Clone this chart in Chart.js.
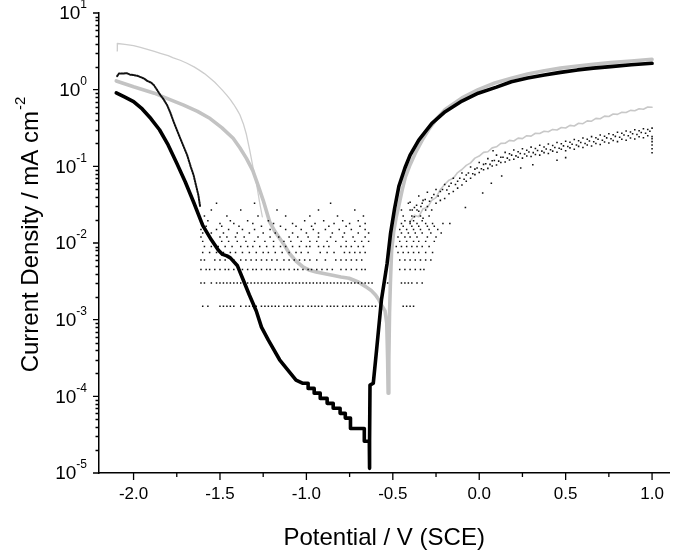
<!DOCTYPE html>
<html>
<head>
<meta charset="utf-8">
<script src="https://cdn.jsdelivr.net/npm/chart.js@4.4.1/dist/chart.umd.min.js"></script>
<style>
  html, body { margin:0; padding:0; background:#fff; }
  canvas { display:block; background:#fff; }
</style>
</head>
<body>
<canvas id="chart" width="675" height="554"></canvas>
<script>
// axis ranges and tick labels
const xMin = -2.2, xMax = 1.1;
const xTickValues = [-2.0,-1.75,-1.5,-1.25,-1.0,-0.75,-0.5,-0.25,0.0,0.25,0.5,0.75,1.0];
const yDecades = [-5,-4,-3,-2,-1,0,1];

// fitted curves  [potential V, current mA cm-2]
const blackFit = [[-2.10,0.91],[-2.05,0.80],[-2.00,0.70],[-1.95,0.56],[-1.90,0.42],[-1.85,0.30],[-1.80,0.19],[-1.75,0.11],[-1.70,0.062],[-1.65,0.033],[-1.60,0.017],[-1.55,0.011],[-1.51,0.0081],[-1.485,0.0071],[-1.46,0.0068],[-1.44,0.0064],[-1.40,0.0051],[-1.37,0.0035],[-1.33,0.0021],[-1.29,0.0013],[-1.26,0.0008],[-1.22,0.00054],[-1.155,0.0003],[-1.10,0.00021],[-1.06,0.000163],[-1.02,0.000148],[-0.99,0.000148],[-0.99,0.000127],[-0.955,0.000127],[-0.955,0.00011],[-0.92,0.00011],[-0.92,0.000094],[-0.88,0.000094],[-0.88,0.000081],[-0.845,0.000081],[-0.845,0.00007],[-0.805,0.00007],[-0.805,0.00006],[-0.775,0.00006],[-0.775,0.000052],[-0.745,0.000052],[-0.745,0.000038],[-0.665,0.000038],[-0.665,0.000026],[-0.636,0.000026],[-0.636,0.0000115],[-0.633,0.000026],[-0.632,0.00014],[-0.613,0.000148],[-0.594,0.0004],[-0.566,0.0018],[-0.533,0.0054],[-0.513,0.0134],[-0.49,0.028],[-0.465,0.055],[-0.43,0.095],[-0.40,0.14],[-0.35,0.22],[-0.274,0.364],[-0.197,0.516],[-0.10,0.71],[-0.006,0.90],[0.10,1.08],[0.186,1.27],[0.28,1.42],[0.377,1.55],[0.47,1.68],[0.569,1.81],[0.66,1.91],[0.76,2.0],[0.88,2.11],[1.00,2.21]];

const grayFit = [[-2.10,1.30],[-2.00,1.09],[-1.88,0.90],[-1.80,0.76],[-1.71,0.63],[-1.63,0.52],[-1.557,0.42],[-1.49,0.32],[-1.424,0.232],[-1.385,0.175],[-1.347,0.127],[-1.31,0.088],[-1.28,0.057],[-1.25,0.036],[-1.213,0.019],[-1.185,0.0145],[-1.155,0.0115],[-1.125,0.0092],[-1.098,0.0073],[-1.06,0.0058],[-1.021,0.0049],[-0.98,0.0044],[-0.944,0.0042],[-0.90,0.0040],[-0.849,0.0038],[-0.80,0.0036],[-0.753,0.00347],[-0.70,0.0031],[-0.657,0.0027],[-0.625,0.0024],[-0.60,0.0021],[-0.58,0.0018],[-0.565,0.00155],[-0.545,0.0013],[-0.535,0.0009],[-0.530,0.0003],[-0.527,0.00011],[-0.523,0.0003],[-0.519,0.0012],[-0.514,0.0030],[-0.507,0.0080],[-0.495,0.014],[-0.48,0.022],[-0.466,0.030],[-0.445,0.050],[-0.427,0.073],[-0.40,0.105],[-0.37,0.148],[-0.33,0.22],[-0.293,0.30],[-0.245,0.42],[-0.197,0.55],[-0.10,0.78],[-0.006,1.0],[0.09,1.22],[0.186,1.41],[0.28,1.60],[0.377,1.77],[0.47,1.91],[0.569,2.04],[0.66,2.14],[0.76,2.25],[0.88,2.37],[1.00,2.49]];

// measured (noisy) data, black sample
const blackMeasLeft = [[-2.095,1.50],[-2.084,1.63],[-2.06,1.62],[-2.04,1.64],[-2.02,1.57],[-2.00,1.55],[-1.979,1.52],[-1.96,1.46],[-1.94,1.40],[-1.921,1.30],[-1.90,1.24],[-1.883,1.15],[-1.865,1.00],[-1.845,0.85],[-1.825,0.74],[-1.806,0.63],[-1.787,0.50],[-1.768,0.38],[-1.75,0.30],[-1.73,0.232],[-1.71,0.18],[-1.69,0.14],[-1.67,0.10],[-1.653,0.077],[-1.64,0.058],[-1.625,0.042],[-1.615,0.030]];

// quantised readings in the passive region: level -> potentials where a dot sits
const bandLevels = [0.0015,0.003,0.0045,0.006,0.0075,0.009,0.0105,0.012,0.0135,0.015,0.0165,0.018,0.0195,0.0225,0.027,0.033];
const bandRows = [
  [-1.60,-1.57,-1.50,-1.48,-1.46,-1.44,-1.42,-1.38,-1.35,-1.33,-1.31,-1.29,-1.26,-1.24,-1.22,-1.20,-1.18,-1.16,-1.13,-1.11,-1.09,-1.06,-1.04,-1.02,-0.99,-0.97,-0.95,-0.93,-0.91,-0.88,-0.86,-0.84,-0.82,-0.79,-0.77,-0.75,-0.73,-0.70,-0.68,-0.66,-0.64,-0.62,-0.60,-0.44,-0.42,-0.40,-0.38],
  [-1.61,-1.59,-1.55,-1.52,-1.50,-1.48,-1.46,-1.44,-1.42,-1.40,-1.38,-1.36,-1.34,-1.32,-1.30,-1.28,-1.26,-1.24,-1.22,-1.20,-1.18,-1.16,-1.14,-1.12,-1.10,-1.08,-1.06,-1.04,-1.02,-1.00,-0.98,-0.96,-0.94,-0.92,-0.90,-0.88,-0.86,-0.84,-0.82,-0.80,-0.78,-0.76,-0.74,-0.72,-0.70,-0.68,-0.66,-0.64,-0.62,-0.55,-0.53,-0.45,-0.43,-0.41,-0.39,-0.36,-0.33],
  [-1.61,-1.58,-1.56,-1.53,-1.50,-1.47,-1.45,-1.42,-1.39,-1.37,-1.34,-1.31,-1.29,-1.26,-1.23,-1.21,-1.18,-1.15,-1.13,-1.10,-1.07,-1.05,-1.02,-0.99,-0.97,-0.94,-0.91,-0.88,-0.85,-0.80,-0.77,-0.74,-0.71,-0.68,-0.66,-0.46,-0.43,-0.40,-0.37,-0.34,-0.32],
  [-1.61,-1.59,-1.53,-1.50,-1.47,-1.42,-1.38,-1.35,-1.32,-1.29,-1.26,-1.23,-1.20,-1.17,-1.13,-1.10,-1.07,-1.04,-1.01,-0.98,-0.94,-0.89,-0.83,-0.80,-0.77,-0.74,-0.71,-0.68,-0.46,-0.43,-0.40,-0.37,-0.34,-0.31,-0.28],
  [-1.60,-1.56,-1.52,-1.48,-1.44,-1.41,-1.37,-1.33,-1.29,-1.25,-1.22,-1.18,-1.14,-1.10,-1.06,-1.03,-0.99,-0.92,-0.88,-0.84,-0.78,-0.75,-0.72,-0.69,-0.66,-0.47,-0.44,-0.41,-0.38,-0.35,-0.31,-0.27],
  [-1.59,-1.55,-1.51,-1.47,-1.43,-1.38,-1.34,-1.31,-1.27,-1.23,-1.19,-1.15,-1.12,-1.08,-1.04,-1.00,-0.98,-0.93,-0.90,-0.87,-0.80,-0.77,-0.74,-0.70,-0.67,-0.48,-0.45,-0.42,-0.39,-0.36,-0.33,-0.29],
  [-1.60,-1.54,-1.49,-1.45,-1.40,-1.35,-1.30,-1.24,-1.19,-1.13,-1.09,-1.03,-0.98,-0.94,-0.88,-0.83,-0.77,-0.72,-0.68,-0.64,-0.46,-0.42,-0.38,-0.35,-0.31,-0.26],
  [-1.61,-1.56,-1.50,-1.46,-1.41,-1.36,-1.28,-1.21,-1.16,-1.10,-1.05,-0.99,-0.93,-0.86,-0.79,-0.73,-0.66,-0.47,-0.43,-0.40,-0.36,-0.30,-0.25],
  [-1.60,-1.55,-1.48,-1.40,-1.33,-1.25,-1.18,-1.08,-1.00,-0.93,-0.85,-0.78,-0.70,-0.64,-0.45,-0.41,-0.37,-0.33,-0.28,-0.22],
  [-1.61,-1.52,-1.45,-1.37,-1.30,-1.21,-1.12,-1.03,-0.96,-0.89,-0.81,-0.74,-0.66,-0.46,-0.42,-0.38,-0.34,-0.29,-0.24],
  [-1.58,-1.49,-1.39,-1.26,-1.15,-1.06,-0.97,-0.87,-0.77,-0.69,-0.44,-0.39,-0.35,-0.30,-0.26],
  [-1.60,-1.50,-1.42,-1.31,-1.19,-1.08,-0.95,-0.84,-0.75,-0.66,-0.45,-0.40,-0.36,-0.31,-0.27,-0.21],
  [-1.57,-1.44,-1.34,-1.22,-1.01,-0.90,-0.79,-0.70,-0.43,-0.38,-0.33],
  [-1.59,-1.46,-1.28,-1.12,-0.98,-0.82,-0.67,-0.44,-0.39,-0.34,-0.29],
  [-1.55,-1.38,-1.17,-0.93,-0.72,-0.45,-0.40,-0.36,-0.31],
  [-1.52,-1.30,-0.86,-0.48,-0.41,-0.33]
];

// black sample, anodic branch scatter (upper and lower edge of the cloud)
const blackCloud = [[-0.400,0.034],[-0.400,0.019],[-0.375,0.029],[-0.375,0.022],[-0.350,0.041],[-0.350,0.026],[-0.325,0.036],[-0.325,0.021],[-0.300,0.046],[-0.300,0.030],[-0.275,0.039],[-0.275,0.027],[-0.250,0.050],[-0.250,0.033],[-0.225,0.047],[-0.225,0.036],[-0.200,0.058],[-0.200,0.038],[-0.175,0.055],[-0.175,0.044],[-0.150,0.070],[-0.150,0.047],[-0.125,0.064],[-0.125,0.052],[-0.100,0.082],[-0.100,0.057],[-0.075,0.077],[-0.075,0.064],[-0.050,0.098],[-0.050,0.070],[-0.025,0.092],[-0.025,0.078],[0.000,0.112],[0.000,0.083],[0.025,0.106],[0.025,0.090],[0.050,0.126],[0.050,0.094],[0.075,0.118],[0.075,0.101],[0.100,0.140],[0.100,0.104],[0.125,0.131],[0.125,0.112],[0.150,0.152],[0.150,0.114],[0.175,0.146],[0.175,0.121],[0.200,0.163],[0.200,0.124],[0.225,0.155],[0.225,0.131],[0.250,0.170],[0.250,0.128],[0.275,0.162],[0.275,0.136],[0.300,0.178],[0.300,0.134],[0.325,0.171],[0.325,0.143],[0.350,0.188],[0.350,0.140],[0.375,0.179],[0.375,0.151],[0.400,0.196],[0.400,0.147],[0.425,0.187],[0.425,0.158],[0.450,0.205],[0.450,0.153],[0.475,0.197],[0.475,0.167],[0.500,0.213],[0.500,0.160],[0.525,0.206],[0.525,0.174],[0.550,0.224],[0.550,0.167],[0.575,0.215],[0.575,0.182],[0.600,0.234],[0.600,0.176],[0.625,0.226],[0.625,0.190],[0.650,0.244],[0.650,0.184],[0.675,0.236],[0.675,0.199],[0.700,0.256],[0.700,0.193],[0.725,0.247],[0.725,0.208],[0.750,0.266],[0.750,0.201],[0.775,0.258],[0.775,0.217],[0.800,0.278],[0.800,0.210],[0.825,0.270],[0.825,0.226],[0.850,0.289],[0.850,0.219],[0.875,0.281],[0.875,0.234],[0.900,0.300],[0.900,0.227],[0.925,0.292],[0.925,0.243],[0.950,0.309],[0.950,0.236],[0.975,0.303],[0.975,0.251],[1.000,0.315],[1.000,0.245],
  [-0.17,0.018],[-0.08,0.029],[0.02,0.045],[0.07,0.060],[0.13,0.075],[0.24,0.095],[0.31,0.105],[0.45,0.12],[0.08,0.16],[0.50,0.13],[1.0,0.15],[1.0,0.17],[1.0,0.19],[1.0,0.21],[1.0,0.23]];

// black sample, middle of the anodic cloud
const blackCloudMid = [[-0.3875,0.027],[-0.3625,0.031],[-0.3375,0.030],[-0.3125,0.037],[-0.2875,0.035],[-0.2625,0.043],[-0.2375,0.041],[-0.2125,0.050],[-0.1875,0.049],[-0.1625,0.060],[-0.1375,0.058],[-0.1125,0.070],[-0.0875,0.068],[-0.0625,0.082],[-0.0375,0.080],[-0.0125,0.095],[0.0125,0.093],[0.0375,0.108],[0.0625,0.106],[0.0875,0.119],[0.1125,0.117],[0.1375,0.131],[0.1625,0.128],[0.1875,0.140],[0.2125,0.137],[0.2375,0.147],[0.2625,0.145],[0.2875,0.154],[0.3125,0.151],[0.3375,0.161],[0.3625,0.158],[0.3875,0.168],[0.4125,0.165],[0.4375,0.176],[0.4625,0.172],[0.4875,0.185],[0.5125,0.181],[0.5375,0.194],[0.5625,0.190],[0.5875,0.204],[0.6125,0.199],[0.6375,0.214],[0.6625,0.209],[0.6875,0.225],[0.7125,0.219],[0.7375,0.235],[0.7625,0.229],[0.7875,0.246],[0.8125,0.240],[0.8375,0.256],[0.8625,0.250],[0.8875,0.266],[0.9125,0.260],[0.9375,0.276],[0.9625,0.270],[0.9875,0.286]];

// measured data, gray sample
const grayMeasLeft = [[-2.095,3.2],[-2.094,4.0],[-2.05,3.9],[-2.0,3.75],[-1.96,3.55],[-1.92,3.35],[-1.88,3.15],[-1.845,2.98],[-1.80,2.78],[-1.77,2.6],[-1.73,2.42],[-1.691,2.21],[-1.65,1.98],[-1.62,1.80],[-1.59,1.62],[-1.557,1.41],[-1.53,1.25],[-1.51,1.12],[-1.485,0.98],[-1.461,0.85],[-1.44,0.74],[-1.42,0.64],[-1.40,0.54],[-1.385,0.47],[-1.365,0.36],[-1.347,0.26],[-1.328,0.163],[-1.31,0.10],[-1.289,0.060],[-1.27,0.033],[-1.255,0.022]];

const grayMeasRight = [[-0.400,0.019],[-0.375,0.023],[-0.350,0.022],[-0.325,0.028],[-0.300,0.029],[-0.275,0.036],[-0.250,0.039],[-0.225,0.050],[-0.200,0.058],[-0.175,0.066],[-0.150,0.070],[-0.125,0.083],[-0.100,0.091],[-0.075,0.103],[-0.050,0.111],[-0.025,0.128],[0.000,0.136],[0.025,0.152],[0.050,0.155],[0.075,0.174],[0.100,0.180],[0.125,0.199],[0.150,0.200],[0.175,0.218],[0.200,0.214],[0.225,0.233],[0.250,0.230],[0.275,0.251],[0.300,0.248],[0.325,0.270],[0.350,0.268],[0.375,0.287],[0.400,0.282],[0.425,0.303],[0.450,0.298],[0.475,0.321],[0.500,0.316],[0.525,0.342],[0.550,0.336],[0.575,0.365],[0.600,0.360],[0.625,0.392],[0.650,0.388],[0.675,0.422],[0.700,0.418],[0.725,0.452],[0.750,0.447],[0.775,0.482],[0.800,0.476],[0.825,0.507],[0.850,0.503],[0.875,0.537],[0.900,0.530],[0.925,0.563],[0.950,0.556],[0.975,0.594],[1.000,0.590]];

const FONT = '"Liberation Sans", Arial, sans-serif';
const toPts = arr => arr.map(p => ({x:p[0], y:p[1]}));

const bandPts = [];
bandRows.forEach((row, i) => row.forEach(x => bandPts.push({x:x, y:bandLevels[i]})));

// ticks, tick labels and axis titles
const axesPlugin = {
  id: 'axesDecor',
  afterDraw(chart){
    const c = chart.ctx, xs = chart.scales.x, ys = chart.scales.y;
    const left = chart.chartArea.left, bottom = chart.chartArea.bottom;
    c.save();
    c.strokeStyle = '#000'; c.lineWidth = 1.3; c.fillStyle = '#000';
    c.beginPath();
    yDecades.forEach(d => {
      const py = ys.getPixelForValue(Math.pow(10, d));
      c.moveTo(left, py); c.lineTo(left - 6, py);
      if (d < 1) for (let m = 2; m <= 9; m++){
        const pm = Math.round(ys.getPixelForValue(m * Math.pow(10, d))) + 0.5;
        c.moveTo(left, pm); c.lineTo(left - 3.5, pm);
      }
    });
    xTickValues.forEach((v, i) => {
      const px = xs.getPixelForValue(v);
      c.moveTo(px, bottom); c.lineTo(px, bottom + (i % 2 === 0 ? 7 : 4));
    });
    c.stroke();
    // y tick labels 10^n
    c.textBaseline = 'middle';
    yDecades.forEach(d => {
      const py = ys.getPixelForValue(Math.pow(10, d));
      const exp = String(d);
      c.font = '12px ' + FONT;
      const ew = c.measureText(exp).width;
      const xr = left - 12;
      c.textAlign = 'left';
      c.fillText(exp, xr - ew, py - 8);
      c.font = '19px ' + FONT;
      c.textAlign = 'right';
      c.fillText('10', xr - ew, py + 1);
    });
    // axis titles
    c.font = '24px ' + FONT;
    c.textAlign = 'center';
    c.fillText('Potential / V (SCE)', (chart.chartArea.left + chart.chartArea.right) / 2, 538);
    c.save();
    c.translate(31, (chart.chartArea.top + chart.chartArea.bottom) / 2 - 8);
    c.rotate(-Math.PI / 2);
    const main = 'Current Density / mA cm';
    c.font = '24px ' + FONT;
    const mw = c.measureText(main).width;
    c.font = '15px ' + FONT;
    const sw = c.measureText('-2').width;
    const x0 = -(mw + sw) / 2;
    c.font = '24px ' + FONT;
    c.textAlign = 'left';
    c.fillText(main, x0, 0);
    c.font = '15px ' + FONT;
    c.fillText('-2', x0 + mw + 1, -10);
    c.restore();
    c.restore();
  }
};

new Chart(document.getElementById('chart'), {
  type: 'scatter',
  data: {
    datasets: [
      { label:'black fit', data: toPts(blackFit), showLine:true, borderColor:'#000', borderWidth:3.6, pointRadius:0, order:0 },
      { label:'black data', data: toPts(blackMeasLeft), showLine:true, borderColor:'#111', borderWidth:2, borderDash:[1.5,1.2], pointRadius:0, order:1 },
      { label:'black band', data: bandPts, showLine:false, pointStyle:'rect', pointRadius:1.05, pointBorderWidth:0, backgroundColor:'#111', order:2 },
      { label:'black cloud', data: toPts(blackCloud), showLine:false, pointStyle:'rect', pointRadius:1.1, pointBorderWidth:0, backgroundColor:'#111', order:2 },
      { label:'black cloud mid', data: toPts(blackCloudMid), showLine:false, pointStyle:'rect', pointRadius:1.1, pointBorderWidth:0, backgroundColor:'#111', order:2 },
      { label:'gray fit', data: toPts(grayFit), showLine:true, borderColor:'#c3c3c3', borderWidth:3.6, pointRadius:0, order:3 },
      { label:'gray data', data: toPts(grayMeasLeft), showLine:true, borderColor:'#cdcdcd', borderWidth:1.3, pointRadius:0, order:4 },
      { label:'gray data 2', data: toPts(grayMeasRight), showLine:true, borderColor:'#c8c8c8', borderWidth:1.6, pointRadius:0, order:4 }
    ]
  },
  options: {
    responsive:false, animation:false, devicePixelRatio:1,
    layout: { padding: { left:0, top:13, right:3, bottom:0 } },
    plugins: { legend:{display:false}, tooltip:{enabled:false} },
    elements: { line: { tension:0, borderCapStyle:'round', borderJoinStyle:'round' } },
    scales: {
      x: {
        type:'linear', min:xMin, max:xMax,
        afterBuildTicks: s => { s.ticks = xTickValues.map(v => ({value:v})); },
        afterFit: s => { s.height = 81; },
        grid: { display:false, drawTicks:false },
        border: { display:true, color:'#000', width:1.5 },
        ticks: {
          padding: 11, color:'#000', font:{ family:FONT, size:17 }, maxRotation:0, autoSkip:false,
          callback: v => (Math.abs(v * 2 - Math.round(v * 2)) < 1e-6 ? v.toFixed(1) : '')
        }
      },
      y: {
        type:'logarithmic', min:1e-5, max:10,
        afterFit: s => { s.width = 99; },
        grid: { display:false, drawTicks:false },
        border: { display:true, color:'#000', width:1.5 },
        ticks: { display:false }
      }
    }
  },
  plugins: [axesPlugin]
});
</script>
</body>
</html>
